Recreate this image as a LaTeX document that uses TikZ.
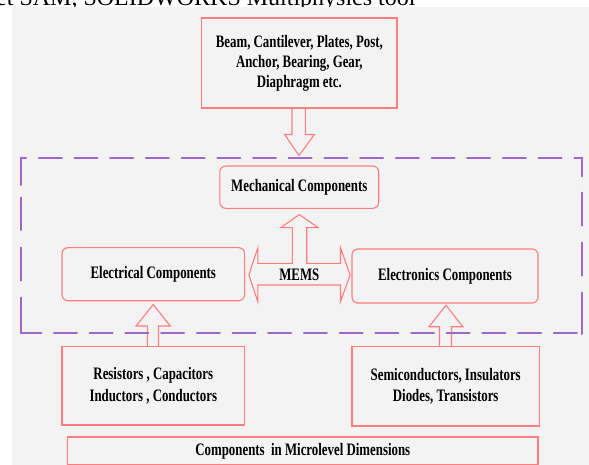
\documentclass[tikz,border=0pt]{standalone}
\usepackage{fontspec}
\setmainfont{Liberation Serif}
\usetikzlibrary{calc}
\definecolor{bg}{RGB}{243,243,243}
\definecolor{boxred}{RGB}{255,125,125}
\definecolor{dashpurple}{RGB}{155,105,200}
\newcommand{\sq}[1]{\scalebox{0.735}[1]{#1}}
\begin{document}
\begin{tikzpicture}[x=1pt,y=-1pt,
  box/.style={draw=boxred,line width=1.1pt,inner sep=0pt,align=center,
    font=\fontsize{17.5}{20}\selectfont\bfseries,text=black},
  rbox/.style={box,rounded corners=6pt},
  blockarrow/.style={draw=boxred,line width=1.1pt,line join=miter},
  frame/.style={draw=dashpurple,line width=2pt,line cap=round}]
\useasboundingbox (0,0) rectangle (589,465);
\begin{scope}
  \clip (0,0) rectangle (589,6.7);
  \node[anchor=base west,font=\fontsize{24}{28}\selectfont,inner sep=0pt] (pagetext) at (-4,5.6) {et SAM, SOLIDWORKS Multiphysics tool};
\end{scope}
\fill[bg] (12.3,6.7) rectangle (589,465);

% boxes
\node[box,minimum width=195.3pt,minimum height=90pt] (top) at (299.35,63)
  {\sq{Beam, Cantilever, Plates, Post,}\\\sq{Anchor, Bearing, Gear,}\\\sq{Diaphragm etc.}};
\node[rbox,minimum width=158.9pt,minimum height=42.3pt] (mech) at (299.25,187.2)
  {\sq{Mechanical Components}};
\node[rbox,minimum width=182.6pt,minimum height=53pt] (elec) at (153.3,274.2)
  {\sq{Electrical Components}};
\node[rbox,minimum width=186pt,minimum height=54pt] (etro) at (445,276)
  {\sq{Electronics Components}};
\node[box,minimum width=182.6pt,minimum height=78.3pt,font=\fontsize{17.5}{21.7}\selectfont\bfseries] (res) at (153.3,385.8)
  {\sq{Resistors , Capacitors}\\\sq{Inductors , Conductors}};
\node[box,minimum width=187.5pt,minimum height=79.3pt,font=\fontsize{17.5}{21.7}\selectfont\bfseries] (semi) at (445.7,386.3)
  {\sq{Semiconductors, Insulators}\\\sq{Diodes, Transistors}};
\node[box,minimum width=470.4pt,minimum height=27.7pt] (micro) at (302.8,450.8)
  {\sq{Components\ \ in Microlevel Dimensions}};
\node[font=\fontsize{17.5}{20}\selectfont\bfseries,inner sep=0pt] (mems) at (299.3,275) {\sq{MEMS}};

% arrow from top box down to the MEMS frame
\coordinate (t1) at (299,155.5);
\draw[blockarrow] ($(top.south)+(-7.35,0)$) -- ++(0,26) -- ++(-7.3,0) -- (t1)
  -- ($(top.south)+(15.05,26)$) -- ++(-9,0) -- ++(0,-26);

% MEMS double arrow with arrow up to mechanical
\draw[blockarrow] (292.3,263.3) -- ($(elec.east)+(12.7,-10.9)$) -- ++(0,-15.6)
  -- ($(elec.east)+(3.7,0.8)$) -- ($(elec.east)+(12.7,27.5)$) -- ++(0,-16.7)
  -- ($(etro.west)+(-11,9)$) -- ++(0,16.7) -- ($(etro.west)+(-1.3,-1)$)
  -- ($(etro.west)+(-11,-28.3)$) -- ++(0,15.6) -- (306.7,263.3)
  -- (306.7,227.7) -- (318.3,227.7) -- ($(mech.south)+(0,5.7)$)
  -- (280.7,227.7) -- (292.3,227.7) -- cycle;

% arrow from resistors up to electrical
\draw[blockarrow] ($(res.north)+(-6,0)$) -- (147.3,326) -- (136,326)
  -- ($(elec.south)+(0,3.3)$) -- (170.2,326) -- (158.5,326) -- ($(res.north)+(5.2,0)$);

% arrow from semiconductors up to electronics
\draw[blockarrow] (439.5,346.7) -- (439.5,326.7) -- (429,326.7)
  -- ($(etro.south)+(1,1.7)$) -- (462.8,326.7) -- (451.5,326.7) -- (451.5,346.7);

% dashed MEMS frame
\draw[frame,dash pattern=on 23pt off 12.7pt,dash phase=18.4pt] (21.5,157.7) -- (582.3,157.7);
\draw[frame,dash pattern=on 23pt off 12.7pt,dash phase=2.7pt] (21,333) -- (582.3,333);
\foreach \a/\b in {157.7/185,197.7/230,247.7/280.7,297.7/333}
  \draw[frame] (21,\a) -- (21,\b);
\foreach \a/\b in {157.7/176.3,192.7/225.7,242.7/275.7,292.7/334}
  \draw[frame] (582.3,\a) -- (582.3,\b);
\end{tikzpicture}
\end{document}
